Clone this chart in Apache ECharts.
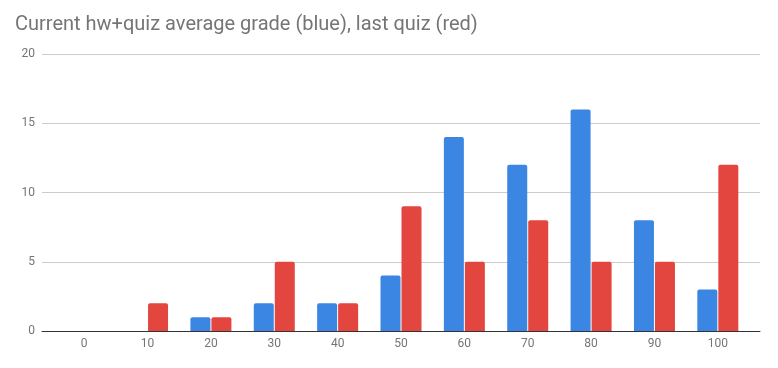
<!DOCTYPE html>
<html><head><meta charset="utf-8">
<script src="https://cdn.jsdelivr.net/npm/echarts@6/dist/echarts.min.js"></script>
<style>html,body{margin:0;padding:0;background:#fff}#c{width:778px;height:368px}</style>
</head><body><div id="c"></div>
<script>
const categories = ['0','10','20','30','40','50','60','70','80','90','100'];
const blueValues = [0,0,1,2,2,4,14,12,16,8,3];
const redValues = [0,2,1,5,2,9,5,8,5,5,12];
const yTicks = [0,5,10,15,20];

const chart = echarts.init(document.getElementById('c'));
const font = 'Roboto, sans-serif';
chart.setOption({
  animation: false,
  title: {
    text: 'Current hw+quiz average grade (blue), last quiz (red)',
    left: 10, top: 10,
    textStyle: {fontFamily: font, fontSize: 20, fontWeight: 'normal', color: '#757575'}
  },
  grid: [
    {left: 42, right: 18, top: 54, bottom: 37},
    {left: 52.5, width: 697, top: 54, bottom: 37}
  ],
  xAxis: [
    {gridIndex: 0, type: 'value', min: 0, max: 1, show: true,
     axisLine: {show: true, onZero: false, lineStyle: {color: '#333', width: 1}},
     axisTick: {show: false}, axisLabel: {show: false}, splitLine: {show: false}},
    {gridIndex: 1, type: 'category', data: categories,
     axisLine: {show: false}, axisTick: {show: false},
     axisLabel: {color: '#757575', fontFamily: font, fontSize: 12, margin: 7}}
  ],
  yAxis: [
    {gridIndex: 0, type: 'value', min: 0, max: 20, interval: 5,
     axisLine: {show: false}, axisTick: {show: false},
     axisLabel: {color: '#757575', fontFamily: font, fontSize: 12, margin: 7,
       formatter: v => yTicks.includes(v) ? String(v) : ''},
     splitLine: {lineStyle: {color: '#cccccc', width: 1}}},
    {gridIndex: 1, type: 'value', min: 0, max: 20, interval: 5, show: false}
  ],
  series: [
    {type: 'bar', name: 'blue', xAxisIndex: 1, yAxisIndex: 1, data: blueValues,
     barWidth: 20, barGap: '5%', itemStyle: {color: '#3b86e2', borderRadius: [2,2,0,0]}},
    {type: 'bar', name: 'red', xAxisIndex: 1, yAxisIndex: 1, data: redValues,
     barWidth: 20, barGap: '5%', itemStyle: {color: '#e2463f', borderRadius: [2,2,0,0]}}
  ]
});
</script></body></html>
